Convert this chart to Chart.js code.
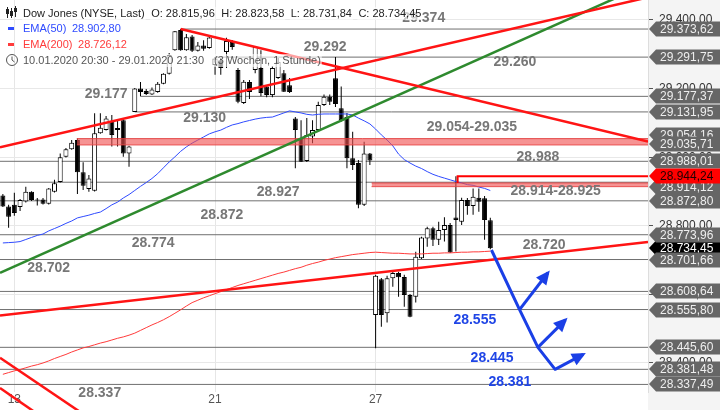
<!DOCTYPE html>
<html><head><meta charset="utf-8">
<script src="https://cdn.jsdelivr.net/npm/chart.js@4.4.1/dist/chart.umd.min.js"></script>
<style>html,body{margin:0;padding:0;background:#fff}#wrap{width:720px;height:410px;position:relative}</style>
</head><body><div id="wrap"><canvas id="c" width="720" height="410"></canvas></div>
<script>
const FONT = '"Liberation Sans", Arial, sans-serif';

// ---------- categories / ticks ----------
const tradingDays = ['10.01.','13.01.','14.01.','15.01.','16.01.','17.01.','21.01.','22.01.','23.01.','24.01.','27.01.','28.01.','29.01.'];
const sessionHours = ['15:30','16:30','17:30','18:30','19:30','20:30','21:30'];
const firstDayHours = ['20:30','21:30'];
const futureSlots = 27;
const tickDays = ['13.01.','21.01.','27.01.'];
const tickTexts = ['13','21','27'];
const yTickStep = 200;

// ---------- OHLC (hourly) ----------
const opens = [28888,28856,28861,28855,28871,28899,28875,28877,28864,28899,
28928,29001,29023,29050,28956,28907,28902,29070,29079,29106,
29085,29108,29011,29131.95,29200,29193,29183,29190,29214,29243,
29312,29371,29312,29352,29310,29326,29318,29269,29283,29307,
29336,29254,29158,29219,29254,29260,29206,29181,29231,29245,
29210,29113,29056,28989,29060,29079,29152,29176,29230,29143,
29117,28997,28983,28861,29011,28540,28644,28545,28647,28662,
28651,28598,28593,28705,28763,28793,28759,28788,28802,28824,
28812,28875,28858,28882,28880,28815.96];
const highs = [28893,28861,28896,28878,28914,28901,28881,28881,28910,28934,
29011,29027,29050,29054.16,28985,28948,29128,29128,29120,29123,
29108,29114,29033,29202,29219,29199,29203,29219,29245,29304,
29368,29373.62,29359,29356,29336,29341,29353,29291.75,29289,29348,
29342,29260,29225,29225,29324,29312,29210,29266,29289,29254,
29231,29117,29108,29114,29108,29162,29183,29183,29292,29206,
29129,29074,28992,29045,29012,28657,28648,28654,28666,28666,
28657,28601,28724,28768,28797,28797,28812,28825,28808,28944.24,
28882,28881,28909,28909,28887,28823.58];
const lows = [28855,28794,28829,28843,28868,28872,28859,28862,28862,28897,
28926,28999,29022,28893,28904,28899,28900,29068,29078,29031,
29031,29001,28972,29131.95,29177.37,29181,29181,29188,29213,29241,
29310,29310,29310,29307,29308,29310,29316,29240,29240,29260,
29313,29157,29155,29170,29245,29178,29175,29175,29228,29190,
29187,28968,28986,28986,29041,29076,29149,29152,29146,29103,
28968,28963,28851,28858,28977,28443,28506,28518,28622,28593,
28564,28533,28576,28703,28739,28741,28744,28754,28721,28725,
28802,28832,28832,28841,28759,28731.84];
const closes = [28856,28826,28837,28875,28899,28875,28874,28864,28909,28924,
29000,29023,29042,28956,28917,28938,29070,29086,29113,29065,
29079,29011,29031,29200,29190,29184,29197,29214,29243,29298,
29367,29312,29350,29310,29326,29316,29349,29288,29260,29339,
29321,29162,29220,29190,29321,29187,29181,29260,29278,29191,
29190,29079,28987,29065,29079,29152,29176,29162,29155,29108,
28997,28977,28861,29011,28990,28654,28540,28647,28662,28650,
28598,28535,28710,28766,28793,28759,28788,28802,28722,28817,
28875,28858,28885,28870,28817,28734.45];

// ---------- moving averages ----------
const ema50 = [28750,28751,28752,28754,28760,28766,28772,28776,28785,28792,
28799,28807,28814,28823,28827,28831,28836,28840,28850,28861,
28869,28881,28891,28903,28915,28926,28938,28952,28969,28986,
29001,29017,29030,29041,29050,29059,29068,29074,29079,29087,
29094,29098,29103,29107,29111,29114,29116,29117,29123,29129,
29135,29132,29129,29125,29123,29125,29126,29126,29126,29126,
29126,29123,29114,29106,29097,29082,29065,29050,29033,29009,
28993,28983,28974,28967,28958,28950,28944,28939,28934,28929,
28925,28920,28918,28913,28909,28902.80];
const ema200 = [28367,28372,28377,28381,28386,28391,28395,28400,28406,28413,
28419,28425,28432,28438,28444,28448,28453,28458,28462,28467,
28472,28476,28481,28487,28495,28503,28511,28518,28526,28535,
28545,28555,28566,28576,28583,28590,28596,28602,28608,28614,
28620,28626,28631,28636,28641,28646,28651,28656,28661,28665,
28670,28675,28679,28685,28690,28694,28699,28703,28707,28710,
28713,28716,28718,28720,28722,28723,28722,28721,28720,28720,
28719,28718,28718,28718,28719,28720,28720,28721,28721,28722,
28723,28723,28724,28724,28725,28726.12];

// ---------- analysis levels (price, first bar index) ----------
const levelValues = [29373.62,29291.75,29177.37,29131.95,28988.01,28927,28872.80,28773.96,28701.66,28608.64,28555.80,28445.60,28381.48,28337.49];
const levelFrom   = [31,37,24,23,-0.5,-0.5,-0.5,-0.5,-0.5,-0.5,-0.5,-0.5,-0.5,-0.5];
const bandTops    = [29054.16,28925];
const bandBottoms = [29035.71,28914.12];
const bandFrom    = [12.9,64.3];
const highMark    = [[79.3,28925],[79.3,28944.24],[112.5,28944.24]];
const redTrends   = [[[-0.5,28538.5],[112.5,28752.7]],[[-0.5,29029],[112.5,29466]],[[31,29373.62],[112.5,29045.5]]];
const redTrendsLow= [[[-0.5,28415],[15,28240]],[[-0.5,28327],[6.5,28246]]];
const greenTrend  = [[-0.5,28663],[112.5,29506]];
const arrowMain   = [[85.2,28729.4],[90.1,28555.8],[93.3,28445.6],[96.3,28381.5],[101.2,28425]];
const arrowBr1    = [[90.1,28555.8],[95.05,28663]];
const arrowBr2    = [[93.3,28445.6],[98.1,28525.7]];

// ---------- text annotations ----------
const levelTexts = ['29.374','29.292','29.260','29.177','29.130','29.054-29.035','28.988','28.914-28.925','28.927','28.872','28.774','28.720','28.702','28.337'];
const levelTextAt = [[73.4,29405.8],[56.2,29321.3],[89.3,29277.5],[18.0,29184.2],[35.2,29114.3],[81.8,29088],[93.3,29000.6],[96.4,28901.4],[48.0,28898.5],[38.2,28831.5],[26.2,28749.8],[94.4,28744],[8.0,28677],[16.9,28312.5]];
const targetTexts = ['28.555','28.445','28.381'];
const targetTextAt = [[82.3,28525.4],[85.3,28414.6],[88.4,28344.6]];

// ---------- right axis price tags (drawing order) ----------
const tagValues = [29373.62,29291.75,29177.37,29131.95,29054.16,29035.71,28988.01,28914.12,28944.24,28872.80,28734.45,28773.96,28701.66,28608.64,28555.80,28445.60,28381.48,28337.49];
const tagKinds  = ['g','g','g','g','g','g','g','g','r','g','k','g','g','g','g','g','g','g'];
const tagShift  = [0,0,0,0,-4,-1,0,0,0,0,0,0,0,0,0,0,0,0];

// ---------- helpers ----------
function fmt(v){ const s=Math.abs(v).toFixed(2); let [i,f]=s.split('.'); i=i.replace(/\B(?=(\d{3})+(?!\d))/g,'.'); return (v<0?'-':'')+i+','+f; }
const labels=[]; const dayStartIdx={};
tradingDays.forEach((d,k)=>{ const hrs=k===0?firstDayHours:sessionHours; dayStartIdx[d]=labels.length; hrs.forEach(h=>labels.push(d+' '+h)); });
for(let k=0;k<futureSlots;k++) labels.push('+'+(k+1));
const tickAt={}; tickDays.forEach((d,k)=>{ tickAt[dayStartIdx[d]]=tickTexts[k]; });
const X_MAX = labels.length-0.5;
const pts = arr => arr.map(p=>({x:p[0],y:p[1]}));

const datasets=[];
levelValues.forEach((v,k)=>datasets.push({type:'line',xAxisID:'x2',data:[{x:levelFrom[k],y:v},{x:X_MAX,y:v}],borderColor:'#707070',borderWidth:1,pointRadius:0,order:10}));
datasets.push({type:'bar',data:lows.map((l,i)=>[l,highs[i]]),backgroundColor:'#000',borderWidth:0,barThickness:1,grouped:false,inflateAmount:0,order:7});
datasets.push({type:'bar',data:opens.map((o,i)=>[o,closes[i]]),backgroundColor:opens.map((o,i)=>closes[i]>=o?'#ffffff':'#000000'),borderColor:'#000',borderWidth:1,borderSkipped:false,barThickness:5,grouped:false,inflateAmount:0,minBarLength:1,order:6});
datasets.push({type:'line',data:ema50,borderColor:'#2f4bff',borderWidth:1,pointRadius:0,order:5});
datasets.push({type:'line',data:ema200,borderColor:'#ff3b3b',borderWidth:1,pointRadius:0,order:5});
bandTops.forEach((t,k)=>{
  datasets.push({type:'line',xAxisID:'x2',data:[{x:bandFrom[k],y:t},{x:X_MAX,y:t}],borderColor:'rgba(225,55,55,0.85)',borderWidth:1,pointRadius:0,fill:'+1',backgroundColor:'rgba(240,80,80,0.62)',order:4});
  datasets.push({type:'line',xAxisID:'x2',data:[{x:bandFrom[k],y:bandBottoms[k]},{x:X_MAX,y:bandBottoms[k]}],borderColor:'rgba(225,55,55,0.85)',borderWidth:1,pointRadius:0,fill:false,order:4});
});
datasets.push({type:'line',xAxisID:'x2',data:pts(highMark),borderColor:'#ff0000',borderWidth:2,pointRadius:0,order:3});
redTrends.forEach(l=>datasets.push({type:'line',xAxisID:'x2',data:pts(l),borderColor:'#ff1414',borderWidth:2.5,pointRadius:0,order:3}));
redTrendsLow.forEach(l=>datasets.push({type:'line',xAxisID:'x2',data:pts(l),borderColor:'#ff1414',borderWidth:2.5,pointRadius:0,order:3,clip:{left:0,top:0,right:0,bottom:false}}));
datasets.push({type:'line',xAxisID:'x2',data:pts(greenTrend),borderColor:'#2e8a2e',borderWidth:2.5,pointRadius:0,order:3});
[arrowMain,arrowBr1,arrowBr2].forEach(l=>datasets.push({type:'line',xAxisID:'x2',data:pts(l),borderColor:'#1a3fe6',borderWidth:3,pointRadius:0,borderJoinStyle:'round',order:1,isArrow:true,clip:false}));

const decor={
  id:'decor',
  beforeDraw(chart){ const {ctx,chartArea:a,width,height}=chart; ctx.save(); ctx.fillStyle='#fff'; ctx.fillRect(0,0,width,height); ctx.fillStyle='#f4f4f4'; ctx.fillRect(a.right,0,width-a.right,height); ctx.restore(); },
  afterDatasetsDraw(chart){
    const ctx=chart.ctx; ctx.save(); ctx.fillStyle='#1a3fe6';
    chart.data.datasets.forEach((d,i)=>{ if(!d.isArrow) return; const m=chart.getDatasetMeta(i).data; const p1=m[m.length-2], p2=m[m.length-1];
      let dx=p2.x-p1.x, dy=p2.y-p1.y; const L=Math.hypot(dx,dy); dx/=L; dy/=L; const nx=-dy, ny=dx;
      const tx=p2.x+dx*3, ty=p2.y+dy*3, bx=p2.x-dx*11, by=p2.y-dy*11;
      ctx.beginPath(); ctx.moveTo(tx,ty); ctx.lineTo(bx+nx*6.5,by+ny*6.5); ctx.lineTo(bx-nx*6.5,by-ny*6.5); ctx.closePath(); ctx.fill(); });
    ctx.restore();
  },
  afterDraw(chart){
    const ctx=chart.ctx, xs=chart.scales.x2, ys=chart.scales.y, a=chart.chartArea;
    ctx.save();
    ctx.textAlign='center'; ctx.textBaseline='middle';
    ctx.font='bold 14px '+FONT; ctx.fillStyle='#777';
    levelTexts.forEach((t,k)=>ctx.fillText(t,xs.getPixelForValue(levelTextAt[k][0]),ys.getPixelForValue(levelTextAt[k][1])));
    ctx.fillStyle='#1f45e6';
    targetTexts.forEach((t,k)=>ctx.fillText(t,xs.getPixelForValue(targetTextAt[k][0]),ys.getPixelForValue(targetTextAt[k][1])));
    // price tags
    ctx.font='12px '+FONT; ctx.textAlign='left';
    const W=chart.width;
    tagValues.forEach((v,k)=>{ const y=Math.round(ys.getPixelForValue(v)+tagShift[k]); const kind=tagKinds[k];
      ctx.fillStyle=kind==='r'?'#ff0000':kind==='k'?'#000':'#666';
      ctx.beginPath(); ctx.moveTo(a.right+1,y); ctx.lineTo(a.right+8,y-7.5); ctx.lineTo(W,y-7.5); ctx.lineTo(W,y+7.5); ctx.lineTo(a.right+8,y+7.5); ctx.closePath(); ctx.fill();
      ctx.fillStyle=kind==='r'?'#220000':kind==='k'?'#fff':'#eeeeee';
      ctx.fillText(fmt(v),a.right+12,y+0.5); });
    // header
    ctx.textAlign='left'; ctx.textBaseline='alphabetic'; ctx.font='11px '+FONT;
    const run=(t,x,b,c)=>{ const w=ctx.measureText(t).width; ctx.fillStyle='rgba(255,255,255,0.6)'; ctx.fillRect(x-1,b-10,w+2,13); ctx.fillStyle=c; ctx.fillText(t,x,b); return x+w; };
    let x=23;
    const l1=['Dow Jones (NYSE, Last)','O: '+fmt(opens[opens.length-1]),'H: '+fmt(highs[highs.length-1]),'L: '+fmt(lows[lows.length-1]),'C: '+fmt(closes[closes.length-1])];
    l1.forEach(t=>{ x=run(t,x,17,'#222')+6.5; });
    x=run('EMA(50)',23,32,'#2f4bff'); run(fmt(ema50[ema50.length-1]),x+5.5,32,'#2f4bff');
    x=run('EMA(200)',23,48,'#ff3b3b'); run(fmt(ema200[ema200.length-1]),x+5.5,48,'#ff3b3b');
    x=run('10.01.2020 20:30 - 29.01.2020 21:30',23,64,'#555'); run('(3 Wochen, 1 Stunde)',x+10,64,'#555');
    // legend swatches
    ctx.fillStyle='#2f4bff'; ctx.fillRect(8,27,6,3);
    ctx.fillStyle='#ff3b3b'; ctx.fillRect(8,43,6,3);
    // candle icon
    ctx.strokeStyle='#222'; ctx.fillStyle='#222'; ctx.lineWidth=1;
    [[7.5,7,18,9,14],[11.5,8,18,11,16],[15.5,6,17,8,12]].forEach(c=>{ ctx.beginPath(); ctx.moveTo(c[0],c[1]); ctx.lineTo(c[0],c[2]); ctx.stroke(); ctx.fillRect(c[0]-1.5,c[3],3,c[4]-c[3]); });
    // clock icon
    ctx.strokeStyle='#555'; ctx.beginPath(); ctx.arc(12,60,5.5,0,Math.PI*2); ctx.stroke();
    ctx.beginPath(); ctx.moveTo(12,56.5); ctx.lineTo(12,60); ctx.lineTo(14.5,62); ctx.stroke();
    ctx.restore();
  }
};

new Chart(document.getElementById('c'),{
  type:'bar',
  data:{labels,datasets},
  options:{
    responsive:false, animation:false, events:[],
    layout:{padding:0},
    plugins:{legend:{display:false},tooltip:{enabled:false}},
    scales:{
      x:{type:'category',offset:true,
        grid:{offset:false,drawTicks:false,color:c=>tickAt[c.index]!==undefined?'#e6e6e6':'rgba(0,0,0,0)'},
        border:{display:false},
        ticks:{autoSkip:false,maxRotation:0,minRotation:0,padding:0,color:'#555',font:{family:FONT,size:12},callback:(v,i)=>tickAt[i]!==undefined?tickAt[i]:''},
        afterFit:s=>{s.height=18;s.paddingLeft=0;s.paddingRight=0;}},
      x2:{type:'linear',display:false,offset:false,grid:{offset:false},bounds:'ticks',min:-0.5,max:X_MAX,
        afterFit:s=>{s.paddingLeft=0;s.paddingRight=0;}},
      y:{position:'right',min:28315.4,max:29458.3,
        grid:{color:'#e8e8e8',tickColor:'#555',tickLength:5},
        border:{display:true,color:'#dddddd'},
        ticks:{stepSize:yTickStep,includeBounds:false,padding:6,color:'#333',font:{family:FONT,size:12},callback:v=>fmt(v)},
        afterFit:s=>{s.width=72;s.paddingTop=0;s.paddingBottom=0;}}
    }
  },
  plugins:[decor]
});
</script></body></html>
